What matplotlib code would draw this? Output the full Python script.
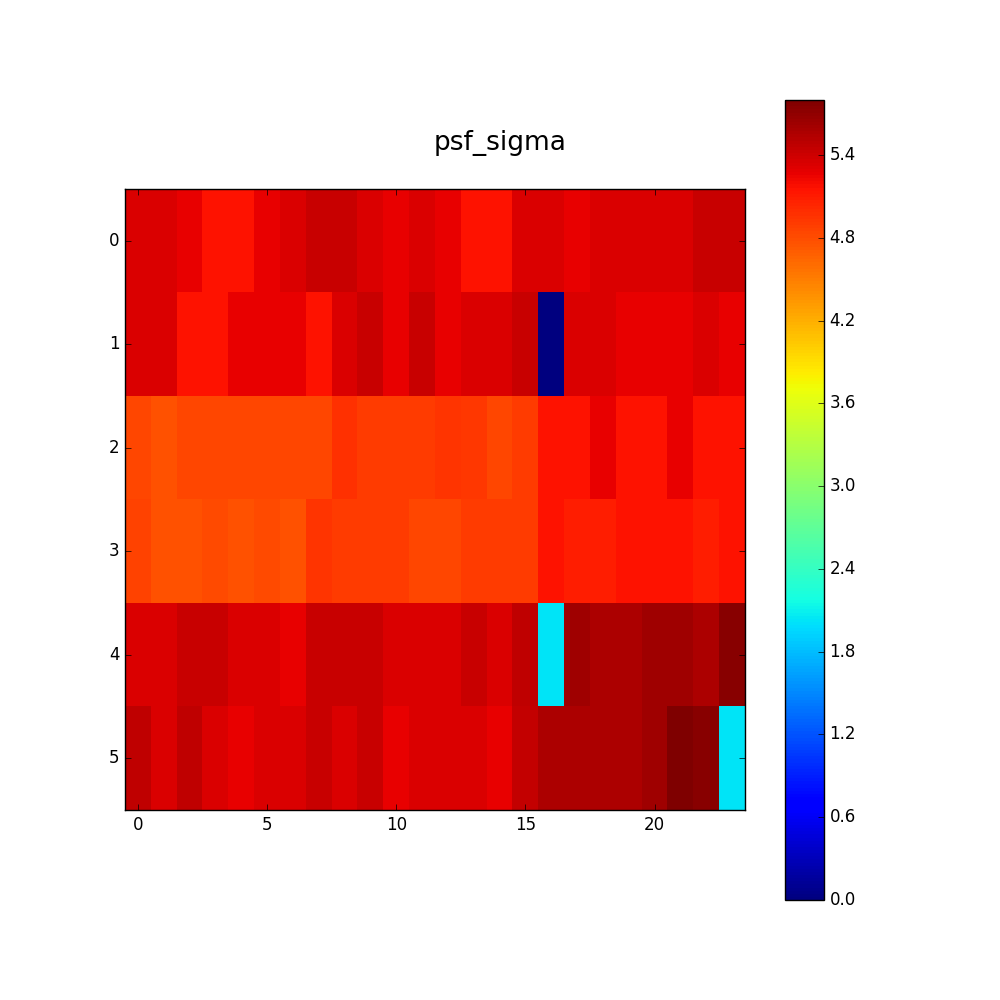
import matplotlib
matplotlib.use('Agg')
import matplotlib.pyplot as plt
import numpy as np

plt.style.use('classic')

title = 'psf_sigma'
row0 = [5.33, 5.33, 5.27, 5.16, 5.16, 5.27, 5.33, 5.42, 5.42, 5.33, 5.27, 5.33,
        5.27, 5.16, 5.16, 5.33, 5.33, 5.27, 5.33, 5.33, 5.33, 5.33, 5.42, 5.42]
row1 = [5.33, 5.33, 5.16, 5.16, 5.27, 5.27, 5.27, 5.16, 5.33, 5.42, 5.27, 5.42,
        5.27, 5.33, 5.33, 5.42, 0.00, 5.33, 5.33, 5.27, 5.27, 5.27, 5.33, 5.27]
row2 = [4.84, 4.78, 4.84, 4.84, 4.84, 4.84, 4.84, 4.84, 4.97, 4.91, 4.91, 4.91,
        4.96, 4.93, 4.84, 4.91, 5.16, 5.16, 5.27, 5.16, 5.16, 5.27, 5.16, 5.16]
row3 = [4.87, 4.78, 4.78, 4.82, 4.78, 4.82, 4.78, 4.95, 4.91, 4.91, 4.91, 4.84,
        4.84, 4.91, 4.91, 4.91, 5.16, 5.08, 5.08, 5.16, 5.16, 5.16, 5.08, 5.16]
row4 = [5.33, 5.33, 5.42, 5.42, 5.33, 5.33, 5.27, 5.42, 5.42, 5.42, 5.33, 5.33,
        5.33, 5.42, 5.33, 5.48, 2.03, 5.64, 5.57, 5.57, 5.64, 5.64, 5.57, 5.74]
row5 = [5.48, 5.33, 5.48, 5.33, 5.27, 5.33, 5.33, 5.42, 5.33, 5.42, 5.27, 5.33,
        5.33, 5.33, 5.27, 5.45, 5.57, 5.57, 5.57, 5.57, 5.64, 5.80, 5.74, 2.03]

x_ticks = [0, 5, 10, 15, 20]
y_ticks = [0, 1, 2, 3, 4, 5]
cb_ticks = [0.0, 0.6, 1.2, 1.8, 2.4, 3.0, 3.6, 4.2, 4.8, 5.4]

data = np.array([row0, row1, row2, row3, row4, row5])

fig = plt.figure(figsize=(10, 10), dpi=100, facecolor='white')
ax = fig.add_axes([0.125, 0.19, 0.62, 0.621])
im = ax.imshow(data, cmap='jet', interpolation='nearest', aspect='auto',
               vmin=data.min(), vmax=data.max())
ax.set_xticks(x_ticks)
ax.set_yticks(y_ticks)
ax.tick_params(labelsize=12)

cax = fig.add_axes([0.785, 0.1, 0.039, 0.8])
cb = fig.colorbar(im, cax=cax, ticks=cb_ticks)
cb.ax.set_yticklabels(['%.1f' % t for t in cb_ticks])
cb.ax.tick_params(labelsize=12)

fig.text(0.5, 0.857, title, ha='center', va='center', fontsize=19)

fig.savefig('out.png', dpi=100, facecolor='white')
